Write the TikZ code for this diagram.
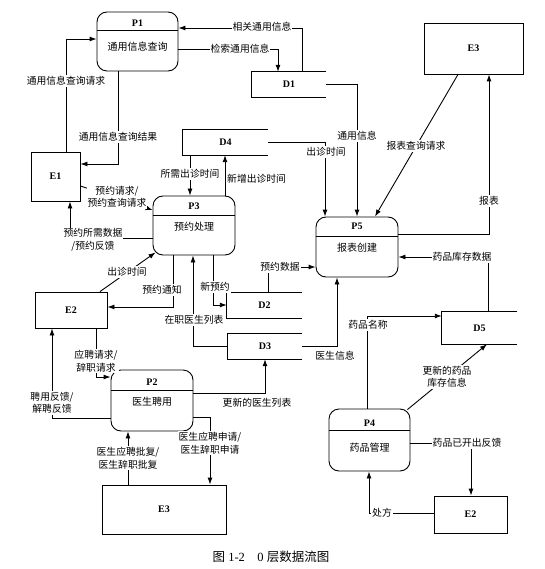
\documentclass[tikz,border=0pt]{standalone}
\usepackage{fontspec}
\setmainfont{Liberation Serif}
\newfontfamily\cjk{Noto Sans CJK SC}
\usetikzlibrary{arrows.meta}

\begin{document}
\begin{tikzpicture}[x=1pt,y=-1pt,
  proc/.style={draw,rounded corners=10pt,inner sep=0,line width=0.9pt},
  ent/.style={draw,inner sep=0,line width=0.9pt,font=\bfseries},
  store/.style={inner sep=0,font=\bfseries},
  pname/.style={inner sep=0,font=\cjk\fontsize{10}{12}\selectfont},
  lbl/.style={fill=white,inner sep=1pt,font=\cjk\fontsize{9.8}{12.5}\selectfont,align=center},
  line/.style={line width=0.9pt},
  flow/.style={line width=0.9pt,-{Latex[length=7pt,width=5pt]}}]

\useasboundingbox (0,0) rectangle (544,569);

% processes
\node[proc,minimum width=81,minimum height=59] (P1) at (137.5,41.5) {};
\draw[line] ([yshift=-19pt]P1.north west) -- ([yshift=-19pt]P1.north east);
\node[store] (P1id) at ([yshift=-12pt]P1.north) {P1};
\node[pname] (P1nm) at ([yshift=-35pt]P1.north) {通用信息查询};

\node[proc,minimum width=82,minimum height=59] (P3) at (194,225.5) {};
\draw[line] ([yshift=-20pt]P3.north west) -- ([yshift=-20pt]P3.north east);
\node[store] (P3id) at ([yshift=-11pt]P3.north) {P3};
\node[pname] (P3nm) at ([yshift=-31pt]P3.north) {预约处理};

\node[proc,minimum width=82,minimum height=60] (P5) at (357,247) {};
\draw[line] ([yshift=-20pt]P5.north west) -- ([yshift=-20pt]P5.north east);
\node[store] (P5id) at ([yshift=-10pt]P5.north) {P5};
\node[pname] (P5nm) at ([yshift=-31pt]P5.north) {报表创建};

\node[proc,minimum width=82,minimum height=61] (P2) at (152,400.5) {};
\draw[line] ([yshift=-21pt]P2.north west) -- ([yshift=-21pt]P2.north east);
\node[store] (P2id) at ([yshift=-13pt]P2.north) {P2};
\node[pname] (P2nm) at ([yshift=-32pt]P2.north) {医生聘用};

\node[proc,minimum width=81,minimum height=62] (P4) at (369.5,440) {};
\draw[line] ([yshift=-22pt]P4.north west) -- ([yshift=-22pt]P4.north east);
\node[store] (P4id) at ([yshift=-15pt]P4.north) {P4};
\node[pname] (P4nm) at ([yshift=-39pt]P4.north) {药品管理};

% external entities
\node[ent,minimum width=49,minimum height=49] (E1) at (55.5,176.5) {E1};
\node[ent,minimum width=99,minimum height=51] (E3a) at (473.5,48.5) {E3};
\node[ent,minimum width=72,minimum height=36] (E2a) at (71,310) {E2};
\node[ent,minimum width=124,minimum height=49] (E3b) at (164,509.5) {E3};
\node[ent,minimum width=73,minimum height=37] (E2b) at (470.5,514.5) {E2};

% data stores
\node[store,minimum width=74,minimum height=25] (D1) at (289,84.5) {D1};
\node[store,minimum width=85,minimum height=25] (D4) at (225.5,142.5) {D4};
\node[store,minimum width=75,minimum height=25] (D2) at (264.5,305.5) {D2};
\node[store,minimum width=74,minimum height=25] (D3) at (265,346.5) {D3};
\node[store,minimum width=75,minimum height=32] (D5) at (479.5,328) {D5};
\foreach \d in {D1,D4,D2,D3,D5}
  \draw[line] (\d.north east) -- (\d.north west) -- (\d.south west) -- (\d.south east);

% data flows
\draw[flow] (D1.north -| 302,0) |- (P1.east |- 0,28);
\draw[flow] (P1.east |- 0,49) -| (D1.north -| 278,0);
\draw[flow] (E1.north -| 66,0) |- (P1.west |- 0,39);
\draw[flow] (P1.south -| 118,0) |- (E1.east |- 0,164);
\draw[flow] (D1.east) -| (P5.north -| 357,0);
\draw[flow] (D4.east) -| (P5.north -| 325,0);
\draw[flow] (E3a.south -| 458,0) -- (P5.north -| 375,0);
\draw[flow] (P5.east |- 0,234) -| (E3a.south -| 489,0);
\draw[flow] (D5.north -| 488,0) |- (P5.east |- 0,257);
\draw[flow] (D4.south -| 190,0) -- (P3.north -| 190,0);
\draw[flow] (P3.north -| 225,0) -- (D4.south -| 225,0);
\draw[flow] (E1.east |- 0,186) -- (P3.west |- 0,210);
\draw[flow] (P3.west |- 0,238) -| (E1.south -| 70,0);
\draw[flow] (E2a.north -| 100,0) -- ([xshift=3pt,yshift=3pt]P3.south west);
\draw[flow] (P3.south -| 173,0) |- (E2a.east |- 0,307);
\draw[flow] (P3.south -| 213,0) |- (D2.west |- 0,305);
\draw[flow] (D3.west) -| (P3.south -| 193,0);
\draw[flow] (D2.north -| 268,0) |- (P5.west |- 0,267);
\draw[flow] (D3.east) -| (P5.south -| 337,0);
\draw[flow] (E2a.south -| 96,0) |- (P2.west |- 0,377);
\draw[flow] (P2.west |- 0,418) -| (E2a.south -| 52,0);
\draw[flow] (P2.east |- 0,393) -| (D3.south -| 265,0);
\draw[flow] (P2.east |- 0,417) -| (E3b.north -| 210,0);
\draw[flow] (E3b.north -| 128,0) -- (P2.south -| 128,0);
\draw[flow] (P4.north -| 367,0) |- (D5.west |- 0,316);
\draw[flow] ([xshift=-3pt,yshift=-1pt]P4.north east) -- (D5.south -| 487,0);
\draw[flow] (P4.east |- 0,443) -| (E2b.north -| 471,0);
\draw[flow] (E2b.west |- 0,513) -| (P4.south -| 369,0);

% flow labels
\node[lbl] (l1) at (262,27) {相关通用信息};
\node[lbl] (l2) at (240,49) {检索通用信息};
\node[lbl] (l3) at (66,81) {通用信息查询请求};
\node[lbl] (l4) at (118,137) {通用信息查询结果};
\node[lbl] (l5) at (357,136) {通用信息};
\node[lbl] (l6) at (326,152) {出诊时间};
\node[lbl] (l7) at (416,146) {报表查询请求};
\node[lbl] (l8) at (489,201) {报表};
\node[lbl] (l9) at (462,257) {药品库存数据};
\node[lbl] (l10) at (190,174) {所需出诊时间};
\node[lbl,anchor=west] (l11) at (226,179) {新增出诊时间};
\node[lbl] (l12) at (117,197) {预约请求/\\预约查询请求};
\node[lbl] (l13) at (93,240) {预约所需数据\\/预约反馈};
\node[lbl] (l14) at (127,272) {出诊时间};
\node[lbl] (l15) at (162,290) {预约通知};
\node[lbl] (l16) at (215,287) {新预约};
\node[lbl] (l17) at (194,320) {在职医生列表};
\node[lbl] (l18) at (280,267) {预约数据};
\node[lbl] (l19) at (335,356) {医生信息};
\node[lbl] (l20) at (96,361) {应聘请求/\\辞职请求};
\node[lbl] (l21) at (52,403) {聘用反馈/\\解聘反馈};
\node[lbl] (l22) at (257,403) {更新的医生列表};
\node[lbl] (l23) at (210,443) {医生应聘申请/\\医生辞职申请};
\node[lbl] (l24) at (128,458) {医生应聘批复/\\医生辞职批复};
\node[lbl] (l25) at (368,325) {药品名称};
\node[lbl] (l26) at (447,377) {更新的药品\\库存信息};
\node[lbl] (l27) at (467,443) {药品已开出反馈};
\node[lbl] (l28) at (382,513) {处方};

\node[font=\fontsize{12.5}{14}\selectfont] (cap) at (271,557) {{\cjk 图} 1-2\quad 0 {\cjk 层数据流图}};

\end{tikzpicture}
\end{document}
